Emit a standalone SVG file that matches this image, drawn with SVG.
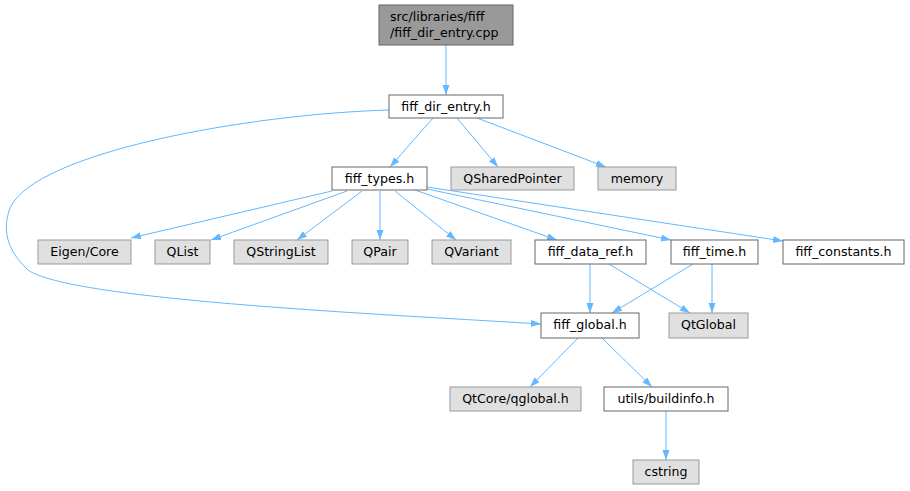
<svg xmlns="http://www.w3.org/2000/svg" width="910" height="491" viewBox="0 0 910 491">
<style>
.n rect{fill:#ffffff;stroke:#666666;stroke-width:1}
.x rect{fill:#e0e0e0;stroke:#999999;stroke-width:1}
.r rect{fill:#999999;stroke:#666666;stroke-width:1}
text{font-family:"DejaVu Sans","Liberation Sans",sans-serif;font-size:12.6px;fill:#000000;text-anchor:middle}
.e path{fill:none;stroke:#63b8ff;stroke-width:1;marker-end:url(#ah)}
</style>
<defs>
<marker id="ah" markerUnits="userSpaceOnUse" markerWidth="11" markerHeight="8" refX="10" refY="3.5" orient="auto"><path d="M0,0 L10,3.5 L0,7 z" fill="#63b8ff"/></marker>
</defs>
<rect width="910" height="491" fill="#ffffff"/>
<g class="e" id="edges">
<path d="M446,45 L446,95"/>
<path d="M433,118 L390,167"/>
<path d="M457,118 L498,167"/>
<path d="M477,118 L606,167"/>
<path d="M389,110 C250,114 35,152 10,208 C0,235 12,255 28,270 C70,300 380,314 541,324"/>
<path d="M332,191 L131,238"/>
<path d="M347,191 L211,240"/>
<path d="M362,191 L297,240"/>
<path d="M380,191 L380,240"/>
<path d="M395,191 L456,240"/>
<path d="M415,190 L557,240"/>
<path d="M427,189 L671,240"/>
<path d="M427,187 L783,241"/>
<path d="M590,264 L590,313"/>
<path d="M609,264 L690,313"/>
<path d="M693,264 L612,313"/>
<path d="M712,264 L712,313"/>
<path d="M578,338 L530,387"/>
<path d="M602,338 L652,387"/>
<path d="M666,411 L666,460"/>
</g>
<g id="node_root" class="r"><rect x="379" y="5" width="134" height="40"/><text x="390" y="21" style="text-anchor:start">src/libraries/fiff</text><text x="390" y="37" style="text-anchor:start">/fiff_dir_entry.cpp</text></g>
<g id="node_dir_entry" class="n"><rect x="389" y="95" width="114" height="23"/><text x="446" y="111">fiff_dir_entry.h</text></g>
<g id="node_types" class="n"><rect x="332" y="167" width="95" height="23"/><text x="379.5" y="183">fiff_types.h</text></g>
<g id="node_qsharedpointer" class="x"><rect x="451" y="167" width="123" height="23"/><text x="512.5" y="183">QSharedPointer</text></g>
<g id="node_memory" class="x"><rect x="598" y="167" width="78" height="23"/><text x="637" y="183">memory</text></g>
<g id="node_eigen" class="x"><rect x="38" y="240" width="93" height="24"/><text x="84.5" y="256">Eigen/Core</text></g>
<g id="node_qlist" class="x"><rect x="155" y="240" width="55" height="24"/><text x="182.5" y="256">QList</text></g>
<g id="node_qstringlist" class="x"><rect x="234" y="240" width="94" height="24"/><text x="281" y="256">QStringList</text></g>
<g id="node_qpair" class="x"><rect x="352" y="240" width="56" height="24"/><text x="380" y="256">QPair</text></g>
<g id="node_qvariant" class="x"><rect x="432" y="240" width="79" height="24"/><text x="471.5" y="256">QVariant</text></g>
<g id="node_data_ref" class="n"><rect x="535" y="240" width="111" height="24"/><text x="590.5" y="256">fiff_data_ref.h</text></g>
<g id="node_time" class="n"><rect x="671" y="240" width="87" height="24"/><text x="714.5" y="256">fiff_time.h</text></g>
<g id="node_constants" class="n"><rect x="783" y="240" width="121" height="24"/><text x="843.5" y="256">fiff_constants.h</text></g>
<g id="node_global" class="n"><rect x="541" y="313" width="98" height="25"/><text x="590" y="329">fiff_global.h</text></g>
<g id="node_qtglobal" class="x"><rect x="669" y="313" width="79" height="25"/><text x="708.5" y="329">QtGlobal</text></g>
<g id="node_qglobal" class="x"><rect x="450" y="387" width="131" height="24"/><text x="515.5" y="403">QtCore/qglobal.h</text></g>
<g id="node_buildinfo" class="n"><rect x="604" y="387" width="124" height="24"/><text x="666" y="403">utils/buildinfo.h</text></g>
<g id="node_cstring" class="x"><rect x="633" y="460" width="66" height="24"/><text x="666" y="476">cstring</text></g>
</svg>
